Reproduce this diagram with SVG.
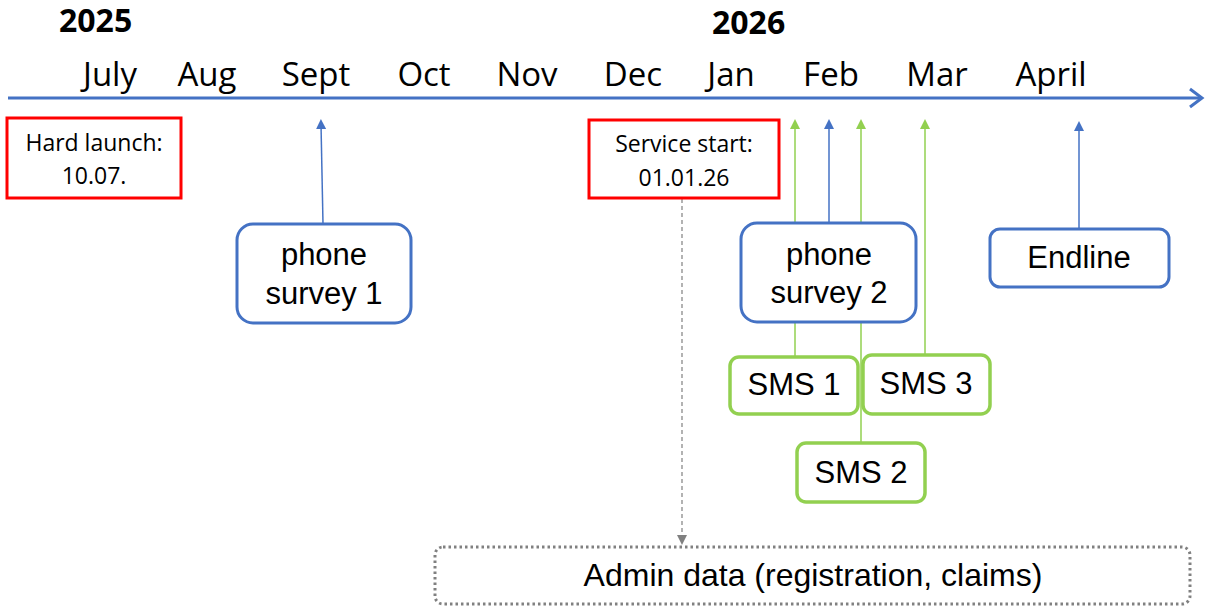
<svg xmlns="http://www.w3.org/2000/svg" width="1207" height="608" viewBox="0 0 1207 608">
<style>
.yr{font-family:"Open Sans","Liberation Sans",sans-serif;font-weight:bold;font-size:32px;fill:#000}
.mo{font-family:"Open Sans","Liberation Sans",sans-serif;font-size:33px;fill:#000;text-anchor:middle}
.lbl{font-family:"Open Sans","Liberation Sans",sans-serif;font-size:23px;fill:#000;text-anchor:middle}
.nt{font-family:"Liberation Sans",Arial,sans-serif;font-size:31px;fill:#000;text-anchor:middle}
.red{fill:#fff;stroke:#FF0000;stroke-width:3}
.blue{fill:#fff;stroke:#4472C4;stroke-width:3}
.green{fill:#fff;stroke:#92D050;stroke-width:3.5}
.bl{stroke:#4472C4;stroke-width:1.5;fill:none}
.gl{stroke:#92D050;stroke-width:1.5;fill:none}
</style>
<defs>
<marker id="ab" markerWidth="10" markerHeight="10" refX="5" refY="5" orient="auto" markerUnits="userSpaceOnUse"><path d="M0,0 L10,5 L0,10 z" fill="#4472C4"/></marker>
<marker id="ag" markerWidth="10" markerHeight="10" refX="5" refY="5" orient="auto" markerUnits="userSpaceOnUse"><path d="M0,0 L10,5 L0,10 z" fill="#92D050"/></marker>
<marker id="agr" markerWidth="10" markerHeight="10" refX="5" refY="5" orient="auto" markerUnits="userSpaceOnUse"><path d="M0,0 L10,5 L0,10 z" fill="#808080"/></marker>
</defs>
<g id="timeline">
<line x1="8" y1="98" x2="1200" y2="98" stroke="#4472C4" stroke-width="3"/>
<path d="M1190,89 L1202,98 L1190,107" fill="none" stroke="#4472C4" stroke-width="3"/>
<text class="yr" x="59" y="32">2025</text>
<text class="yr" x="712" y="34">2026</text>
<text class="mo" x="110" y="86">July</text>
<text class="mo" x="207" y="86">Aug</text>
<text class="mo" x="316" y="86">Sept</text>
<text class="mo" x="424" y="86">Oct</text>
<text class="mo" x="527" y="86">Nov</text>
<text class="mo" x="633" y="86">Dec</text>
<text class="mo" x="731" y="86">Jan</text>
<text class="mo" x="831" y="86">Feb</text>
<text class="mo" x="937" y="86">Mar</text>
<text class="mo" x="1051" y="86">April</text>
</g>
<g id="connectors">
<line class="bl" x1="323" y1="224" x2="321" y2="124" marker-end="url(#ab)"/>
<line class="bl" x1="829" y1="224" x2="829" y2="124" marker-end="url(#ab)"/>
<line class="bl" x1="1079" y1="229" x2="1079" y2="126" marker-end="url(#ab)"/>
<line class="gl" x1="795" y1="357" x2="795" y2="124" marker-end="url(#ag)"/>
<line class="gl" x1="861" y1="443" x2="861" y2="124" marker-end="url(#ag)"/>
<line class="gl" x1="925" y1="355" x2="925" y2="124" marker-end="url(#ag)"/>
<line x1="682" y1="199" x2="682" y2="540" stroke="#808080" stroke-width="1.2" stroke-dasharray="4,3" marker-end="url(#agr)"/>
</g>
<g id="hard-launch">
<rect class="red" x="7" y="118" width="174" height="80"/>
<text class="lbl" x="94" y="151">Hard launch:</text>
<text class="lbl" x="94" y="184">10.07.</text>
</g>
<g id="service-start">
<rect class="red" x="589" y="120" width="190" height="78"/>
<text class="lbl" x="684" y="152">Service start:</text>
<text class="lbl" x="684" y="186">01.01.26</text>
</g>
<g id="phone-survey-1">
<rect class="blue" x="237" y="224" width="174" height="99" rx="16"/>
<text class="nt" x="324" y="265">phone</text>
<text class="nt" x="324" y="304">survey 1</text>
</g>
<g id="phone-survey-2">
<rect class="blue" x="741" y="223" width="175" height="99" rx="16"/>
<text class="nt" x="829" y="265">phone</text>
<text class="nt" x="829" y="303">survey 2</text>
</g>
<g id="endline">
<rect class="blue" x="990" y="229" width="179" height="58" rx="10"/>
<text class="nt" x="1079" y="268">Endline</text>
</g>
<g id="sms-1">
<rect class="green" x="730" y="357" width="128" height="57" rx="9"/>
<text class="nt" x="794" y="395">SMS 1</text>
</g>
<g id="sms-3">
<rect class="green" x="863" y="355" width="127" height="59" rx="9"/>
<text class="nt" x="926" y="394">SMS 3</text>
</g>
<g id="sms-2">
<rect class="green" x="797" y="443" width="128" height="59" rx="9"/>
<text class="nt" x="861" y="483">SMS 2</text>
</g>
<g id="admin-data">
<rect x="435" y="547" width="755" height="57" rx="8" fill="#fff" stroke="#808080" stroke-width="3" stroke-dasharray="2.5,3"/>
<text class="nt" x="813" y="586" style="font-size:32px">Admin data (registration, claims)</text>
</g>
</svg>
